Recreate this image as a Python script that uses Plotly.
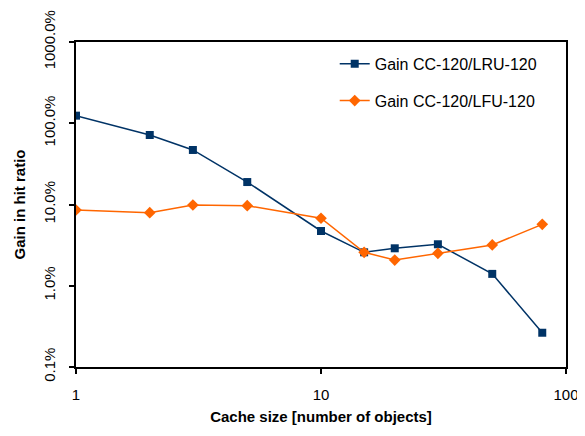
import plotly.graph_objects as go

cache_size = [1, 2, 3, 5, 10, 15, 20, 30, 50, 80]
gain_lru = [124, 71.7, 46.9, 18.9, 4.72, 2.58, 2.89, 3.24, 1.40, 0.264]
gain_lfu = [8.56, 7.93, 9.86, 9.67, 6.77, 2.58, 2.07, 2.51, 3.18, 5.70]
y_tickvals = [0.1, 1, 10, 100, 1000]
y_ticktext = ["0.1%", "1.0%", "10.0%", "100.0%", "1000.0%"]
x_tickvals = [1, 10, 100]
x_ticktext = ["1", "10", "100"]

font_family = "Liberation Sans, Arial, sans-serif"

fig = go.Figure()
fig.add_trace(go.Scatter(
    x=cache_size, y=gain_lru, mode="lines+markers",
    name="Gain CC-120/LRU-120", legendgroup="a",
    line=dict(color="#003366", width=1.5),
    marker=dict(symbol="square", size=8, color="#003366"),
))
fig.add_trace(go.Scatter(
    x=cache_size, y=gain_lfu, mode="lines+markers",
    name="Gain CC-120/LFU-120", legendgroup="b",
    line=dict(color="#FF6600", width=1.5),
    marker=dict(symbol="diamond", size=9, color="#FF6600"),
))

# page body has an 8px margin, so the figure is 8px smaller and left/top margins shifted
fig.update_layout(
    width=577, height=428,
    margin=dict(l=68, r=19, t=34, b=69, autoexpand=False),
    paper_bgcolor="white", plot_bgcolor="white",
    font=dict(family=font_family, size=15, color="black"),
    showlegend=True,
    legend=dict(x=0.528, y=0.985, xanchor="left", yanchor="top",
                bgcolor="rgba(0,0,0,0)", font=dict(size=16),
                tracegroupgap=13, itemwidth=30),
)
fig.update_xaxes(
    type="log", range=[0, 2], automargin=False,
    tickvals=x_tickvals, ticktext=x_ticktext,
    ticks="outside", ticklen=5, tickwidth=1.5, tickcolor="black",
    ticklabelstandoff=8,
    showline=True, linecolor="black", linewidth=1.5, mirror=True,
    showgrid=False, zeroline=False,
    title=dict(text="<b>Cache size [number of objects]</b>", font=dict(size=15), standoff=10),
)
fig.update_yaxes(
    type="log", range=[-1, 3], automargin=False,
    tickvals=y_tickvals, ticktext=y_ticktext, tickangle=-90,
    ticks="outside", ticklen=5, tickwidth=1.5, tickcolor="black",
    ticklabelstandoff=8,
    showline=True, linecolor="black", linewidth=1.5, mirror=True,
    showgrid=False, zeroline=False,
    title=dict(text="<b>Gain in hit ratio</b>", font=dict(size=15), standoff=12),
)

fig.write_html("out.html")
